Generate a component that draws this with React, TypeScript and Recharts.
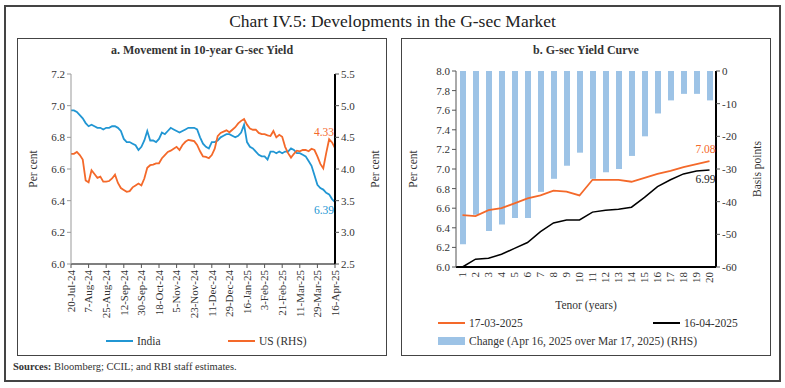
import React from 'react';
import { LineChart, Line, XAxis, YAxis, ComposedChart, Bar } from 'recharts';

const FONT = "'Liberation Serif', 'Times New Roman', serif";

// Panel a: 10-year G-sec yield (sampled every 3 days)
const dateTicks = [
  '20-Jul-24', '7-Aug-24', '25-Aug-24', '12-Sep-24', '30-Sep-24', '18-Oct-24', '5-Nov-24', '23-Nov-24',
  '11-Dec-24', '29-Dec-24', '16-Jan-25', '3-Feb-25', '21-Feb-25', '11-Mar-25', '29-Mar-25', '16-Apr-25',
];

const indiaYield = [
  6.97, 6.97, 6.96, 6.94, 6.92, 6.89, 6.87, 6.88, 6.87, 6.86,
  6.86, 6.85, 6.86, 6.86, 6.87, 6.87, 6.86, 6.84, 6.79, 6.77,
  6.77, 6.76, 6.75, 6.72, 6.74, 6.78, 6.84, 6.78, 6.78, 6.77,
  6.79, 6.83, 6.82, 6.84, 6.86, 6.85, 6.84, 6.83, 6.84, 6.85,
  6.86, 6.86, 6.86, 6.85, 6.80, 6.76, 6.74, 6.73, 6.77, 6.77,
  6.78, 6.80, 6.81, 6.82, 6.82, 6.81, 6.80, 6.81, 6.83, 6.88,
  6.77, 6.74, 6.73, 6.71, 6.69, 6.68, 6.68, 6.66, 6.71, 6.71,
  6.70, 6.71, 6.70, 6.71, 6.71, 6.73, 6.72, 6.70, 6.70, 6.69,
  6.68, 6.65, 6.62, 6.56, 6.50, 6.48, 6.47, 6.45, 6.44, 6.41,
  6.39,
];

const usYield = [
  4.24, 4.24, 4.27, 4.22, 4.15, 3.82, 3.79, 3.98, 3.92, 3.86,
  3.88, 3.80, 3.80, 3.81, 3.85, 3.91, 3.78, 3.70, 3.67, 3.64,
  3.65, 3.71, 3.74, 3.77, 3.74, 3.85, 4.02, 4.06, 4.07, 4.09,
  4.09, 4.17, 4.22, 4.27, 4.29, 4.32, 4.35, 4.30, 4.38, 4.43,
  4.46, 4.45, 4.44, 4.38, 4.28, 4.20, 4.19, 4.17, 4.22, 4.32,
  4.52, 4.57, 4.59, 4.61, 4.58, 4.62, 4.66, 4.72, 4.76, 4.79,
  4.70, 4.64, 4.62, 4.62, 4.57, 4.55, 4.55, 4.53, 4.52, 4.60,
  4.50, 4.54, 4.51, 4.35, 4.25, 4.18, 4.24, 4.29, 4.28, 4.30,
  4.30, 4.28, 4.32, 4.30, 4.20, 4.08, 4.01, 4.25, 4.47, 4.42,
  4.33,
];

const indiaTicks = [6.0, 6.2, 6.4, 6.6, 6.8, 7.0, 7.2];
const usTicks = [2.5, 3.0, 3.5, 4.0, 4.5, 5.0, 5.5];

// Panel b: G-sec yield curve
const tenors = ['1', '2', '3', '4', '5', '6', '7', '8', '9', '10', '11', '12', '13', '14', '15', '16', '17', '18', '19', '20'];
const yieldMar17 = [6.53, 6.52, 6.58, 6.60, 6.65, 6.70, 6.73, 6.78, 6.77, 6.73, 6.89, 6.89, 6.89, 6.87, 6.91, 6.95, 6.98, 7.02, 7.05, 7.08];
const yieldApr16 = [6.00, 6.08, 6.09, 6.13, 6.19, 6.25, 6.36, 6.45, 6.48, 6.48, 6.56, 6.58, 6.59, 6.61, 6.71, 6.82, 6.89, 6.95, 6.98, 6.99];
const changeBps = [-53, -44, -49, -47, -45, -45, -37, -33, -29, -25, -33, -31, -30, -26, -20, -13, -9, -7, -7, -9];

const curveTicks = [6.0, 6.2, 6.4, 6.6, 6.8, 7.0, 7.2, 7.4, 7.6, 7.8, 8.0];
const bpsTicks = [-60, -50, -40, -30, -20, -10, 0];

const BLUE = '#2196d3';
const ORANGE = '#f4692a';
const BAR = '#9dc3e6';
const TEXT = '#333';

const yieldData = indiaYield.map((v, i) => ({ i, india: v, us: usYield[i] }));
const curveData = tenors.map((t, i) => ({ tenor: t, mar: yieldMar17[i], apr: yieldApr16[i], change: changeBps[i] }));

const tickStyle = { fontSize: 11, fill: TEXT, fontFamily: FONT };

const DateTick = ({ x, y, payload }: any) => (
  <text x={x} y={y} transform={`rotate(-90, ${x}, ${y})`} textAnchor="end" dy="0.35em" fontSize={11} fill={TEXT} fontFamily={FONT}>
    {dateTicks[Math.round(payload.value / 6)]}
  </text>
);

const TenorTick = ({ x, y, payload }: any) => (
  <text x={x} y={y} transform={`rotate(-90, ${x}, ${y})`} textAnchor="end" dy="0.35em" fontSize={11} fill={TEXT} fontFamily={FONT}>
    {payload.value}
  </text>
);

const endLabel = (last: number, color: string, dx: number, dy: number) => (props: any) => {
  if (props.index !== last) return <g />;
  return (
    <text x={props.x + dx} y={props.y + dy} textAnchor="end" fontSize={11.5} fill={color} fontFamily={FONT}>
      {Number(props.value).toFixed(2)}
    </text>
  );
};

const axisLabel = (value: string, position: any, offset: number) => ({
  value,
  angle: -90,
  position,
  offset,
  style: { textAnchor: 'middle', fontSize: 11.5, fill: TEXT, fontFamily: FONT },
});

const LegendLine = ({ x, y, color, text }: { x: number; y: number; color: string; text: string }) => (
  <div style={{ position: 'absolute', left: x, top: y - 8, height: 16, display: 'flex', alignItems: 'center', fontSize: 11.5, color: TEXT }}>
    <div style={{ width: 27, height: 2, background: color, marginRight: 4 }} />
    <span>{text}</span>
  </div>
);

const App = () => {
  return (
    <div style={{ position: 'absolute', left: 0, top: 0, width: 785, height: 388, background: '#fff', fontFamily: FONT, color: TEXT }}>
      <div style={{ position: 'absolute', left: 4, top: 5, width: 773, height: 373, border: '2px solid #444' }} />
      <div style={{ position: 'absolute', left: 0, top: 11, width: 785, textAlign: 'center', fontSize: 17.5, color: '#222' }}>
        Chart IV.5: Developments in the G-sec Market
      </div>

      {/* Panel a */}
      <div style={{ position: 'absolute', left: 17, top: 38, width: 368, height: 316, border: '1px solid #444' }} />
      <div style={{ position: 'absolute', left: 17, top: 43, width: 370, textAlign: 'center', fontSize: 12, fontWeight: 'bold' }}>
        a. Movement in 10-year G-sec Yield
      </div>
      <div style={{ position: 'absolute', left: 18, top: 38 }}>
        <LineChart width={368} height={317} data={yieldData} margin={{ top: 36, right: 0, bottom: 0, left: 0 }}>
          <XAxis
            dataKey="i"
            type="number"
            domain={[0, 90]}
            ticks={dateTicks.map((_, k) => k * 6)}
            height={91}
            tick={<DateTick />}
            tickSize={4}
            tickMargin={2}
            axisLine={{ stroke: '#555', strokeWidth: 1.5 }}
            tickLine={{ stroke: '#555' }}
            interval={0}
          />
          <YAxis
            yAxisId="l"
            width={53}
            domain={[6.0, 7.2]}
            ticks={indiaTicks}
            tickFormatter={(v: number) => v.toFixed(1)}
            tick={tickStyle}
            tickSize={4}
            axisLine={{ stroke: '#999' }}
            tickLine={{ stroke: '#999' }}
            label={axisLabel('Per cent', 'insideLeft', 15)}
          />
          <YAxis
            yAxisId="r"
            orientation="right"
            width={51}
            domain={[2.5, 5.5]}
            ticks={usTicks}
            tickFormatter={(v: number) => v.toFixed(1)}
            tick={tickStyle}
            tickSize={4}
            axisLine={{ stroke: '#000', strokeWidth: 2 }}
            tickLine={{ stroke: '#555' }}
            label={axisLabel('Per cent', 'insideRight', 11)}
          />
          <Line
            yAxisId="l"
            dataKey="india"
            stroke={BLUE}
            strokeWidth={1.8}
            dot={false}
            isAnimationActive={false}
            label={endLabel(indiaYield.length - 1, BLUE, -1, 12)}
          />
          <Line
            yAxisId="r"
            dataKey="us"
            stroke={ORANGE}
            strokeWidth={1.8}
            dot={false}
            isAnimationActive={false}
            label={endLabel(usYield.length - 1, ORANGE, -1, -12)}
          />
        </LineChart>
      </div>
      <LegendLine x={106} y={341} color={BLUE} text="India" />
      <LegendLine x={228} y={341} color={ORANGE} text="US (RHS)" />

      {/* Panel b */}
      <div style={{ position: 'absolute', left: 401, top: 38, width: 368, height: 316, border: '1px solid #444' }} />
      <div style={{ position: 'absolute', left: 401, top: 43, width: 370, textAlign: 'center', fontSize: 12, fontWeight: 'bold' }}>
        b. G-sec Yield Curve
      </div>
      <div style={{ position: 'absolute', left: 402, top: 38 }}>
        <ComposedChart width={368} height={317} data={curveData} margin={{ top: 33, right: 0, bottom: 0, left: 0 }} barCategoryGap={0}>
          <XAxis
            dataKey="tenor"
            height={88}
            tick={<TenorTick />}
            tickSize={3}
            tickMargin={2}
            interval={0}
            axisLine={{ stroke: '#000', strokeWidth: 2 }}
            tickLine={false}
            label={{ value: 'Tenor (years)', position: 'insideBottom', offset: 46, style: { fontSize: 11.5, fill: TEXT, fontFamily: FONT } }}
          />
          <YAxis
            yAxisId="l"
            width={54}
            domain={[6.0, 8.0]}
            ticks={curveTicks}
            tickFormatter={(v: number) => v.toFixed(1)}
            tick={tickStyle}
            tickSize={4}
            axisLine={{ stroke: '#555' }}
            tickLine={{ stroke: '#555' }}
            label={axisLabel('Per cent', 'insideLeft', 11)}
          />
          <YAxis
            yAxisId="r"
            orientation="right"
            width={54}
            domain={[-60, 0]}
            ticks={bpsTicks}
            tick={tickStyle}
            tickSize={4}
            axisLine={{ stroke: '#000', strokeWidth: 2 }}
            tickLine={{ stroke: '#555' }}
            label={axisLabel('Basis points', 'insideRight', 13)}
          />
          <Bar yAxisId="r" dataKey="change" fill={BAR} barSize={6} isAnimationActive={false} />
          <Line
            yAxisId="l"
            dataKey="mar"
            stroke={ORANGE}
            strokeWidth={1.8}
            dot={false}
            isAnimationActive={false}
            label={endLabel(yieldMar17.length - 1, ORANGE, 6, -8)}
          />
          <Line
            yAxisId="l"
            dataKey="apr"
            stroke="#000"
            strokeWidth={1.5}
            dot={false}
            isAnimationActive={false}
            label={endLabel(yieldApr16.length - 1, '#222', 6, 13)}
          />
        </ComposedChart>
      </div>
      <LegendLine x={438} y={323} color={ORANGE} text="17-03-2025" />
      <LegendLine x={653} y={323} color="#000" text="16-04-2025" />
      <div style={{ position: 'absolute', left: 438, top: 333, height: 16, display: 'flex', alignItems: 'center', fontSize: 11.5 }}>
        <div style={{ width: 27, height: 8, background: BAR, marginRight: 4 }} />
        <span>Change (Apr 16, 2025 over Mar 17, 2025) (RHS)</span>
      </div>

      <div style={{ position: 'absolute', left: 13, top: 361, fontSize: 10.5 }}>
        <b>Sources:</b> Bloomberg; CCIL; and RBI staff estimates.
      </div>
    </div>
  );
};

export default App;
